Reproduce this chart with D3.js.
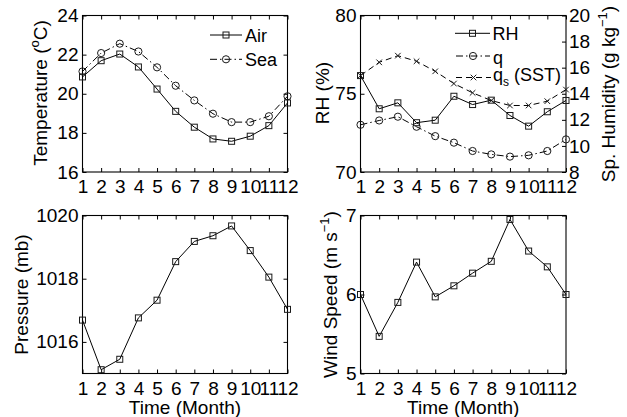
<!DOCTYPE html>
<html><head><meta charset="utf-8">
<script src="https://cdn.jsdelivr.net/npm/d3@7"></script>
<style>
body{margin:0;background:#fff}
svg text{font-family:"Liberation Sans",Arial,Helvetica,sans-serif;fill:#000}
</style></head><body>
<svg id="chart" width="627" height="417"></svg>
<script>
const months=[1,2,3,4,5,6,7,8,9,10,11,12];
const airTemp=[20.86,21.69,22.03,21.37,20.24,19.10,18.29,17.69,17.57,17.83,18.37,19.53];
const seaTemp=[21.14,22.08,22.56,22.16,21.35,20.41,19.66,18.98,18.55,18.55,18.85,19.87];
const relHumidity=[76.16,74.04,74.42,73.15,73.31,74.84,74.31,74.59,73.61,72.93,73.85,74.57];
const specHumidity=[11.62,11.95,12.24,11.47,10.75,10.25,9.61,9.35,9.18,9.28,9.61,10.50];
const satHumidity=[15.39,16.41,16.92,16.49,15.72,14.78,14.07,13.48,13.10,13.10,13.43,14.32];
const pressure=[1016.69,1015.12,1015.45,1016.76,1017.32,1018.54,1019.18,1019.36,1019.67,1018.89,1018.05,1017.03];
const windSpeed=[6.00,5.47,5.90,6.41,5.97,6.11,6.27,6.42,6.95,6.55,6.35,6.00];
const tempTicks=[16,18,20,22,24];
const rhTicks=[70,75,80];
const qTicks=[8,10,12,14,16,18,20];
const pressureTicks=[1016,1018,1020];
const windTicks=[5,6,7];
const tempLegend=["Air","Sea"];
const humLegend=["RH","q","q","s"," (SST)"];
const xTitle="Time (Month)";

const svg=d3.select("#chart");
const FONT=19;

function styleAxis(sel,fs){
  sel.attr("font-size",fs).attr("font-family",'"Liberation Sans",Arial,sans-serif');
  sel.select(".domain").remove();
  sel.selectAll(".tick line").attr("stroke","#000").attr("stroke-width",1);
}

function panel(x0,y0,w,h,yDomain,yTickVals,rightAxis){
  const g=svg.append("g").attr("transform",`translate(${x0},${y0})`);
  const x=d3.scaleLinear().domain([1,12]).range([0,w]);
  const y=d3.scaleLinear().domain(yDomain).range([h,0]);
  g.append("g").attr("transform",`translate(0,${h})`)
    .call(d3.axisBottom(x).tickValues(months).tickFormat(d3.format("d")).tickSizeInner(-4).tickSizeOuter(0).tickPadding(7.8))
    .call(s=>styleAxis(s,FONT));
  g.append("g")
    .call(d3.axisTop(x).tickValues(months).tickFormat("").tickSizeInner(-4).tickSizeOuter(0))
    .call(s=>styleAxis(s,FONT));
  g.append("g")
    .call(d3.axisLeft(y).tickValues(yTickVals).tickFormat(d3.format("d")).tickSizeInner(-4).tickSizeOuter(0).tickPadding(4))
    .call(s=>styleAxis(s,FONT));
  let y2=null;
  if(rightAxis){
    y2=d3.scaleLinear().domain(rightAxis.domain).range([h,0]);
    g.append("g").attr("transform",`translate(${w},0)`)
      .call(d3.axisRight(y2).tickValues(rightAxis.ticks).tickFormat(d3.format("d")).tickSizeInner(-4).tickSizeOuter(0).tickPadding(3))
      .call(s=>styleAxis(s,FONT));
  } else {
    g.append("g").attr("transform",`translate(${w},0)`)
      .call(d3.axisRight(y).tickValues(yTickVals).tickFormat("").tickSizeInner(-4).tickSizeOuter(0))
      .call(s=>styleAxis(s,FONT));
  }
  g.append("rect").attr("x",0).attr("y",0).attr("width",w).attr("height",h)
    .attr("fill","none").attr("stroke","#000").attr("stroke-width",1.1);
  return {g,x,y,y2,w,h};
}

function drawSeries(p,yScale,vals,dash,marker){
  const line=d3.line().x((d,i)=>p.x(months[i])).y(d=>yScale(d));
  p.g.append("path").datum(vals).attr("d",line).attr("fill","none")
    .attr("stroke","#000").attr("stroke-width",1).attr("stroke-dasharray",dash);
  vals.forEach((v,i)=>drawMarker(p.g,p.x(months[i]),yScale(v),marker));
}

function drawMarker(g,cx,cy,type){
  const c="#1a1a1a";
  if(type==="square"){
    g.append("rect").attr("x",cx-3).attr("y",cy-3).attr("width",6).attr("height",6)
      .attr("fill","none").attr("stroke",c).attr("stroke-width",1);
  } else if(type==="circle"){
    g.append("circle").attr("cx",cx).attr("cy",cy).attr("r",3.6)
      .attr("fill","none").attr("stroke",c).attr("stroke-width",1);
  } else if(type==="x"){
    g.append("path").attr("d",`M${cx-2.8},${cy-2.8}L${cx+2.8},${cy+2.8}M${cx-2.8},${cy+2.8}L${cx+2.8},${cy-2.8}`)
      .attr("stroke",c).attr("stroke-width",1);
  }
}

function legendRow(g,x1,x2,ly,dash,marker){
  g.append("line").attr("x1",x1).attr("x2",x2).attr("y1",ly).attr("y2",ly)
    .attr("stroke","#000").attr("stroke-width",1).attr("stroke-dasharray",dash);
  drawMarker(g,(x1+x2)/2,ly,marker);
}

function yTitle(cx,cy,parts){
  const t=svg.append("text").attr("transform",`translate(${cx},${cy}) rotate(-90)`)
    .attr("text-anchor","middle").attr("font-size",FONT);
  parts.forEach(p=>{
    const ts=t.append("tspan").text(p.t);
    if(p.sup){ts.attr("font-size",13).attr("dy",-8);}
    if(p.after){ts.attr("dy",8);}
  });
}

const DASHDOT="7,3,1.5,3";
const DASH="6,4";

// Top-left: temperature
const p1=panel(82.5,15.5,205,156.5,[16,24],tempTicks,null);
drawSeries(p1,p1.y,airTemp,null,"square");
drawSeries(p1,p1.y,seaTemp,DASHDOT,"circle");
// legend (absolute svg coords)
legendRow(svg,210,242,35,null,"square");
legendRow(svg,210,242,59.3,DASHDOT,"circle");
svg.append("text").attr("x",245).attr("y",41.5).attr("font-size",18).text(tempLegend[0]);
svg.append("text").attr("x",245).attr("y",65.5).attr("font-size",18).text(tempLegend[1]);
yTitle(47,93,[{t:"Temperature ("},{t:"o",sup:true},{t:"C)",after:true}]);

// Top-right: humidity
const p2=panel(360.5,15.5,205.5,156.5,[70,80],rhTicks,{domain:[8,20],ticks:qTicks});
drawSeries(p2,p2.y2,satHumidity,DASH,"x");
drawSeries(p2,p2.y2,specHumidity,DASHDOT,"circle");
drawSeries(p2,p2.y,relHumidity,null,"square");
legendRow(svg,455,490,33.3,null,"square");
legendRow(svg,456,490,56,DASHDOT,"circle");
legendRow(svg,456,491,77.5,DASH,"x");
svg.append("text").attr("x",492.5).attr("y",40).attr("font-size",18).text(humLegend[0]);
svg.append("text").attr("x",493).attr("y",63.5).attr("font-size",18).text(humLegend[1]);
const qs=svg.append("text").attr("x",493).attr("y",80.5).attr("font-size",18);
qs.append("tspan").text(humLegend[2]);
qs.append("tspan").attr("font-size",12).attr("dy",5).text(humLegend[3]);
qs.append("tspan").attr("dy",-5).text(humLegend[4]);
yTitle(329,93,[{t:"RH (%)"}]);
yTitle(615,94,[{t:"Sp. Humidity (g kg"},{t:"\u22121",sup:true},{t:")",after:true}]);

// Bottom-left: pressure
const p3=panel(82.5,215.5,205,158,[1015,1020],pressureTicks,null);
drawSeries(p3,p3.y,pressure,null,"square");
yTitle(27.5,294.5,[{t:"Pressure (mb)"}]);
svg.append("text").attr("x",82.5+102.5).attr("y",413.5).attr("text-anchor","middle").attr("font-size",FONT).text(xTitle);

// Bottom-right: wind speed
const p4=panel(360.5,215.5,205.5,158,[5,7],windTicks,null);
drawSeries(p4,p4.y,windSpeed,null,"square");
yTitle(337,294.5,[{t:"Wind Speed (m s"},{t:"\u22121",sup:true},{t:")",after:true}]);
svg.append("text").attr("x",360.5+102.75).attr("y",413.5).attr("text-anchor","middle").attr("font-size",FONT).text(xTitle);
</script>
</body></html>
